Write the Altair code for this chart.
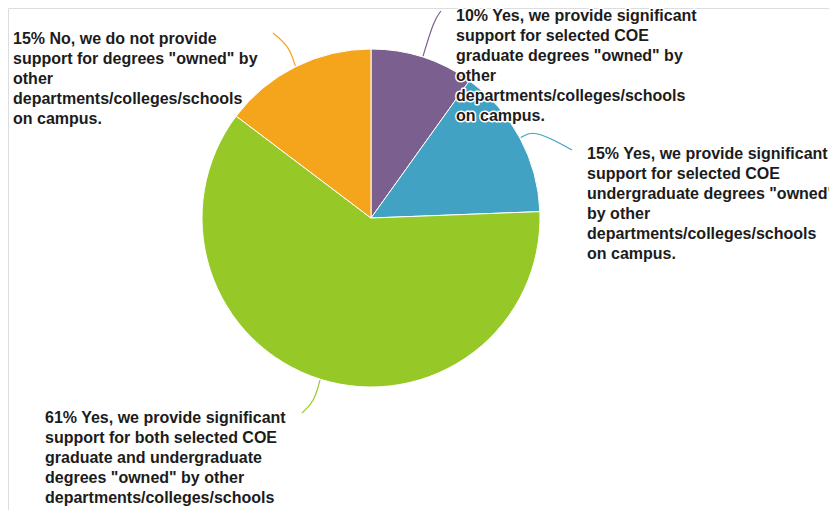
import math
import altair as alt
import pandas as pd

# ---------------- data ----------------
answers = [
    "Yes, we provide significant\nsupport for selected COE\ngraduate degrees \"owned\" by\nother\ndepartments/colleges/schools\non campus.",
    "Yes, we provide significant\nsupport for selected COE\nundergraduate degrees \"owned\"\nby other\ndepartments/colleges/schools\non campus.",
    "Yes, we provide significant\nsupport for both selected COE\ngraduate and undergraduate\ndegrees \"owned\" by other\ndepartments/colleges/schools\non campus.",
    "No, we do not provide\nsupport for degrees \"owned\" by\nother\ndepartments/colleges/schools\non campus.",
]
keys = ["grad", "undergrad", "both", "no"]
shares = [9.9, 14.5, 60.9, 14.7]          # slice sizes
pct_labels = ["10%", "15%", "61%", "15%"]  # printed percentages
colors = ["#7B5F8E", "#41A2C3", "#96C927", "#F5A51C"]

# ---------------- layout ----------------
CX, CY, R = 363, 210, 169
label_pos = {"grad": (448, 13), "undergrad": (579, 151), "both": (37, 415), "no": (5, 36)}
# leader line waypoints after the slice edge point (chart pixel coords)
leader_rest = {
    "grad": [(426, 12), (433, 3)],
    "undergrad": [(524, 123), (542, 130), (564, 142)],
    "both": [(306, 394), (294, 405)],
    "no": [(281, 38), (265, 25)],
}
FONT = "Liberation Sans"

pie_df = pd.DataFrame({"key": keys, "share": shares, "idx": list(range(len(keys)))})

# leader line start at the middle angle of each slice, on the rim
total = sum(shares)
rows = []
cum = 0.0
for k, s in zip(keys, shares):
    mid = (cum + s / 2) / total * 2 * math.pi
    cum += s
    pts = [(CX + (R + 1) * math.sin(mid), CY - (R + 1) * math.cos(mid))] + leader_rest[k]
    for j, (x, y) in enumerate(pts):
        rows.append({"key": k, "ord": j, "x": x, "y": y})
line_df = pd.DataFrame(rows)

lab_df = pd.DataFrame({
    "key": keys,
    "text": [p + " " + a for p, a in zip(pct_labels, answers)],
    "x": [label_pos[k][0] for k in keys],
    "y": [label_pos[k][1] for k in keys],
})

color_scale = alt.Scale(domain=keys, range=colors)

pie = alt.Chart(pie_df).mark_arc(radius=R, stroke="white", strokeWidth=1).encode(
    theta=alt.Theta("share:Q", stack=True),
    color=alt.Color("key:N", scale=color_scale, legend=None),
    order=alt.Order("idx:Q"),
    x=alt.value(CX),
    y=alt.value(CY),
)

leaders = alt.Chart(line_df).mark_line(interpolate="basis", strokeWidth=1.2).encode(
    x=alt.X("x:Q", scale=None, axis=None),
    y=alt.Y("y:Q", scale=None, axis=None),
    color=alt.Color("key:N", scale=color_scale, legend=None),
    detail="key:N",
    order="ord:Q",
)

text_base = alt.Chart(lab_df).encode(
    x=alt.X("x:Q", scale=None, axis=None),
    y=alt.Y("y:Q", scale=None, axis=None),
    text="text:N",
)
halo = text_base.mark_text(
    align="left", baseline="alphabetic", font=FONT, fontSize=16, fontWeight="bold",
    lineBreak="\n", lineHeight=20, fill="white", stroke="white", strokeWidth=3,
    strokeJoin="round",
)
labels = text_base.mark_text(
    align="left", baseline="alphabetic", font=FONT, fontSize=16, fontWeight="bold",
    lineBreak="\n", lineHeight=20, fill="#1c1c1c",
)

chart = alt.layer(pie, leaders, halo, labels).properties(
    width=821, height=502, autosize="none", padding=0
).configure_view(strokeWidth=0).configure(background="white")

chart.save("out.html", embed_options={"renderer": "svg", "actions": False})
